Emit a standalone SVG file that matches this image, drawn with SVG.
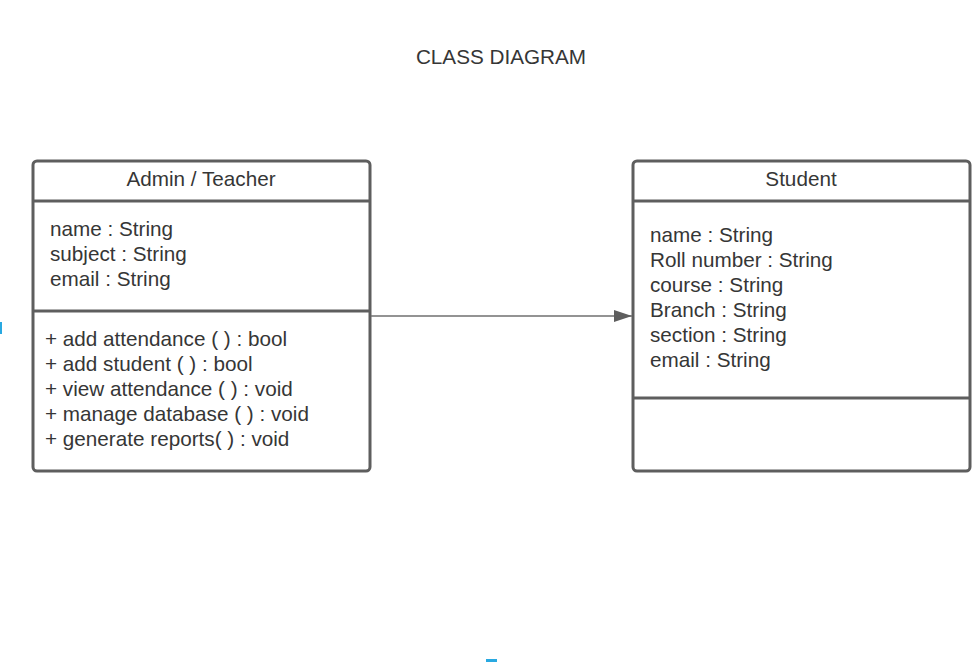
<svg xmlns="http://www.w3.org/2000/svg" width="977" height="662" viewBox="0 0 977 662">
<defs>
<style>
.box{fill:#ffffff;stroke:#5e5e5e;stroke-width:3}
.div{stroke:#5e5e5e;stroke-width:3;fill:none}
.t{font-family:"Liberation Sans",Arial,sans-serif;font-size:20.7px;fill:#363636}
.c{text-anchor:middle}
.edge{stroke:#6f6f6f;stroke-width:1.5;fill:none}
.handle{fill:#29a9e1}
</style>
<marker id="arr" markerWidth="18" markerHeight="12" refX="18" refY="6" orient="auto" markerUnits="userSpaceOnUse">
<path d="M0,0 L18,6 L0,12 Z" fill="#5e5e5e"/>
</marker>
</defs>
<rect width="977" height="662" fill="#ffffff"/>
<text class="t c" x="501" y="64">CLASS DIAGRAM</text>
<g id="admin">
<rect class="box" x="33" y="161" width="337" height="310" rx="4"/>
<line class="div" x1="33" y1="201" x2="370" y2="201"/>
<line class="div" x1="33" y1="311" x2="370" y2="311"/>
<text class="t c" x="201" y="186">Admin / Teacher</text>
<text class="t" x="50" y="236">name : String</text>
<text class="t" x="50" y="261">subject : String</text>
<text class="t" x="50" y="286">email : String</text>
<text class="t" x="45" y="346">+ add attendance ( ) : bool</text>
<text class="t" x="45" y="371">+ add student ( ) : bool</text>
<text class="t" x="45" y="396">+ view attendance ( ) : void</text>
<text class="t" x="45" y="421">+ manage database ( ) : void</text>
<text class="t" x="45" y="446">+ generate reports( ) : void</text>
</g>
<g id="student">
<rect class="box" x="633" y="161" width="337" height="310" rx="4"/>
<line class="div" x1="633" y1="201" x2="970" y2="201"/>
<line class="div" x1="633" y1="398" x2="970" y2="398"/>
<text class="t c" x="801" y="186">Student</text>
<text class="t" x="650" y="242">name : String</text>
<text class="t" x="650" y="267">Roll number : String</text>
<text class="t" x="650" y="292">course : String</text>
<text class="t" x="650" y="317">Branch : String</text>
<text class="t" x="650" y="342">section : String</text>
<text class="t" x="650" y="367">email : String</text>
</g>
<g id="connectors">
<line class="edge" x1="371" y1="316" x2="632" y2="316" marker-end="url(#arr)"/>
</g>
<rect class="handle" x="0" y="322" width="2" height="12"/>
<rect class="handle" x="486" y="659" width="11" height="3"/>
</svg>
